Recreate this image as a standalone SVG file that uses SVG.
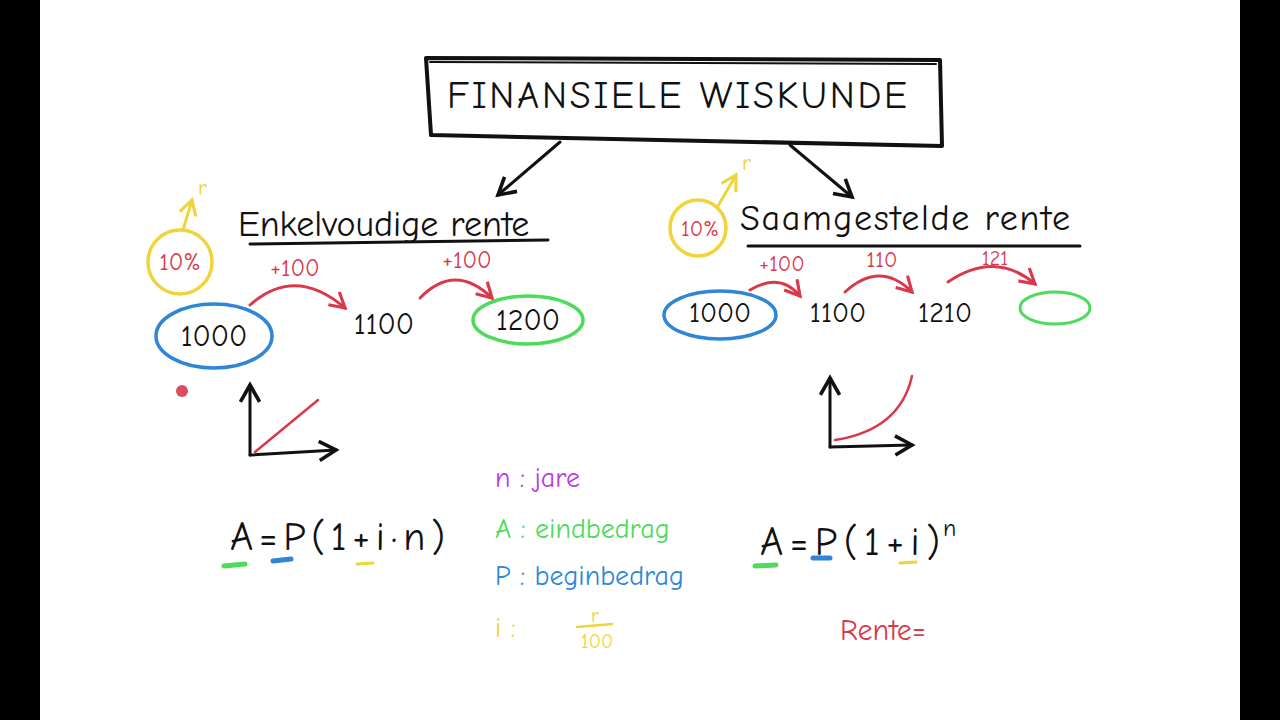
<svg xmlns="http://www.w3.org/2000/svg" width="1280" height="720" viewBox="0 0 1280 720">
<defs>
<style>
.t{font-family:"Comic Neue","Lato","Liberation Sans",sans-serif}
.k{fill:#111}.r{fill:#d9394a}.s{fill:none;stroke-linecap:round;stroke-linejoin:round}
</style>
<marker id="ak" viewBox="0 0 10 10" refX="8" refY="5" markerWidth="8" markerHeight="8" orient="auto"><path d="M1,1 L8,5 L1,9" fill="none" stroke="#111" stroke-width="1.5"/></marker>
<marker id="ar" viewBox="0 0 10 10" refX="8" refY="5" markerWidth="7" markerHeight="7" orient="auto"><path d="M1,1 L8,5 L1,9" fill="none" stroke="#d9394a" stroke-width="1.5"/></marker>
<marker id="ay" viewBox="0 0 10 10" refX="8" refY="5" markerWidth="7" markerHeight="7" orient="auto"><path d="M1,1 L8,5 L1,9" fill="none" stroke="#f0d43a" stroke-width="1.5"/></marker>
</defs>
<rect width="1280" height="720" fill="#fff"/>
<rect width="40" height="720" fill="#000"/>
<rect x="1240" width="40" height="720" fill="#000"/>
<g id="title">
<path class="s" d="M426,58 L940,60 L942,146 L431,135 Z" stroke="#111" stroke-width="4"/>
<path class="s" d="M430,62 L936,64" stroke="#111" stroke-width="2"/>
<text class="t k" x="677" y="108" font-size="38" text-anchor="middle" textLength="460" lengthAdjust="spacing">FINANSIELE WISKUNDE</text>
</g>
<g id="connectors">
<path class="s" d="M560,142 L498,195" stroke="#111" stroke-width="3" marker-end="url(#ak)"/>
<path class="s" d="M790,145 L852,197" stroke="#111" stroke-width="3" marker-end="url(#ak)"/>
</g>
<g id="left">
<text class="t k" x="238" y="236" font-size="36">Enkelvoudige rente</text>
<path class="s" d="M250,244 L548,240" stroke="#111" stroke-width="3"/>
<circle cx="180" cy="262" r="32" fill="none" stroke="#f0d43a" stroke-width="3.5"/>
<text class="t r" x="180" y="270" font-size="24" text-anchor="middle">10%</text>
<path class="s" d="M183,230 L192,200" stroke="#f0d43a" stroke-width="3" marker-end="url(#ay)"/>
<text class="t" x="198" y="195" font-size="22" fill="#f0d43a">r</text>
<text class="t r" x="295" y="276" font-size="24" text-anchor="middle">+100</text>
<path class="s" d="M250,305 Q295,265 345,308" stroke="#d9394a" stroke-width="3" marker-end="url(#ar)"/>
<ellipse cx="214" cy="336" rx="58" ry="32" fill="none" stroke="#2f86d6" stroke-width="3.5"/>
<text class="t k" x="214" y="346" font-size="30" text-anchor="middle">1000</text>
<text class="t k" x="384" y="334" font-size="30" text-anchor="middle">1100</text>
<text class="t r" x="467" y="268" font-size="24" text-anchor="middle">+100</text>
<path class="s" d="M420,298 Q455,262 492,298" stroke="#d9394a" stroke-width="3" marker-end="url(#ar)"/>
<ellipse cx="528" cy="320" rx="55" ry="24" fill="none" stroke="#4cdb5a" stroke-width="3.5"/>
<text class="t k" x="528" y="330" font-size="30" text-anchor="middle">1200</text>
<circle cx="182" cy="391" r="6" fill="#d9394a" opacity="0.9"/>
<path class="s" d="M250,455 L250,385" stroke="#111" stroke-width="3" marker-end="url(#ak)"/>
<path class="s" d="M250,455 L336,450" stroke="#111" stroke-width="3" marker-end="url(#ak)"/>
<path class="s" d="M255,452 L318,400" stroke="#d9394a" stroke-width="2.5"/>
<text class="t k" x="230" y="550" font-size="40" textLength="215" lengthAdjust="spacing">A=P(1+i·n)</text>
<path class="s" d="M224,566 L245,564" stroke="#4cdb5a" stroke-width="5"/>
<path class="s" d="M273,561 L291,559" stroke="#2f86d6" stroke-width="5"/>
<path class="s" d="M357,564 L373,563" stroke="#f0d43a" stroke-width="3"/>
</g>
<g id="legend">
<text class="t" x="495" y="487" font-size="28" fill="#b640d9">n : jare</text>
<text class="t" x="495" y="538" font-size="28" fill="#4cdb5a">A : eindbedrag</text>
<text class="t" x="495" y="585" font-size="28" fill="#2f86d6">P : beginbedrag</text>
<text class="t" x="495" y="637" font-size="28" fill="#f0d43a">i :</text>
<text class="t" x="595" y="622" font-size="20" fill="#f0d43a" text-anchor="middle">r</text>
<path class="s" d="M577,627 L612,624" stroke="#f0d43a" stroke-width="2.5"/>
<text class="t" x="597" y="648" font-size="20" fill="#f0d43a" text-anchor="middle">100</text>
</g>
<g id="right">
<circle cx="698" cy="228" r="28" fill="none" stroke="#f0d43a" stroke-width="3.5"/>
<text class="t r" x="700" y="236" font-size="22" text-anchor="middle">10%</text>
<path class="s" d="M718,206 L736,175" stroke="#f0d43a" stroke-width="3" marker-end="url(#ay)"/>
<text class="t" x="742" y="170" font-size="22" fill="#f0d43a">r</text>
<text class="t k" x="740" y="230" font-size="36" textLength="330" lengthAdjust="spacing">Saamgestelde rente</text>
<path class="s" d="M748,246 L1080,246" stroke="#111" stroke-width="3"/>
<text class="t r" x="782" y="271" font-size="22" text-anchor="middle">+100</text>
<path class="s" d="M750,290 Q780,272 800,296" stroke="#d9394a" stroke-width="3" marker-end="url(#ar)"/>
<text class="t r" x="882" y="267" font-size="22" text-anchor="middle">110</text>
<path class="s" d="M845,292 Q880,260 912,292" stroke="#d9394a" stroke-width="3" marker-end="url(#ar)"/>
<text class="t r" x="995" y="265" font-size="20" text-anchor="middle">121</text>
<path class="s" d="M948,282 Q995,250 1035,284" stroke="#d9394a" stroke-width="3" marker-end="url(#ar)"/>
<ellipse cx="720" cy="315" rx="56" ry="24" fill="none" stroke="#2f86d6" stroke-width="3.5"/>
<text class="t k" x="720" y="322" font-size="28" text-anchor="middle">1000</text>
<text class="t k" x="838" y="322" font-size="28" text-anchor="middle">1100</text>
<text class="t k" x="945" y="322" font-size="28" text-anchor="middle">1210</text>
<ellipse cx="1055" cy="308" rx="35" ry="16" fill="none" stroke="#4cdb5a" stroke-width="3"/>
<path class="s" d="M830,447 L830,378" stroke="#111" stroke-width="3" marker-end="url(#ak)"/>
<path class="s" d="M830,447 L912,445" stroke="#111" stroke-width="3" marker-end="url(#ak)"/>
<path class="s" d="M835,440 Q900,430 912,376" stroke="#d9394a" stroke-width="2.5"/>
<text class="t k" x="760" y="555" font-size="40" textLength="180" lengthAdjust="spacing">A=P(1+i)</text>
<text class="t k" x="943" y="536" font-size="24">n</text>
<path class="s" d="M755,566 L776,565" stroke="#4cdb5a" stroke-width="5"/>
<path class="s" d="M813,558 L830,558" stroke="#2f86d6" stroke-width="5"/>
<path class="s" d="M900,563 L916,562" stroke="#f0d43a" stroke-width="3"/>
<text class="t r" x="840" y="640" font-size="30">Rente=</text>
</g>
</svg>
